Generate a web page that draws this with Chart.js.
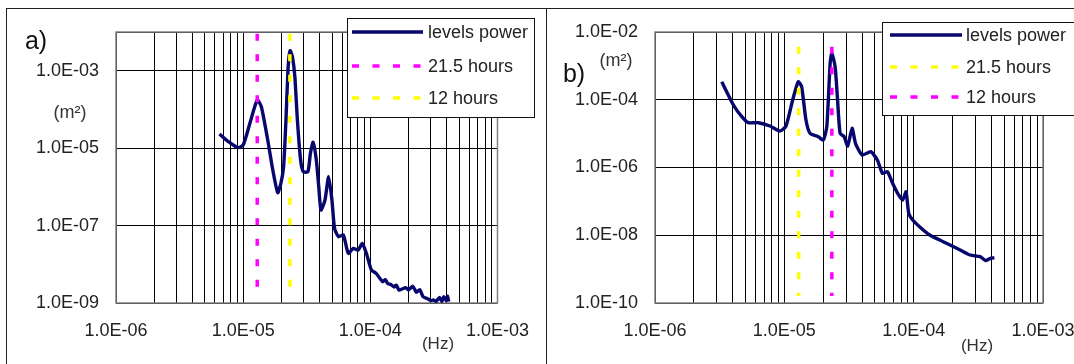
<!DOCTYPE html>
<html>
<head>
<meta charset="utf-8">
<script src="https://cdn.jsdelivr.net/npm/chart.js@4"></script>
<style>
  html, body { margin: 0; padding: 0; width: 1074px; height: 364px; overflow: hidden; background: #fff; }
  .frame { position: absolute; border: 1px solid #222; }
  canvas { position: absolute; top: 0; }
</style>
</head>
<body>
<div class="frame" style="left:6px; top:8px; width:539px; height:400px;"></div>
<div class="frame" style="left:546px; top:8px; width:600px; height:400px; border-left:none;"></div>
<canvas id="chartA" width="546" height="364" style="left:0"></canvas>
<canvas id="chartB" width="560" height="364" style="left:546px"></canvas>
<script>
// panel a) frequency (Hz) and power levels (m2)
var freqA = [6.52e-6, 7.66e-6, 9.14e-6, 1.0e-5, 1.13e-5, 1.29e-5, 1.39e-5, 1.56e-5, 1.71e-5, 1.87e-5,
             1.98e-5, 2.08e-5, 2.17e-5, 2.26e-5, 2.34e-5, 2.44e-5, 2.55e-5, 2.67e-5, 2.83e-5, 2.97e-5,
             3.23e-5, 3.38e-5, 3.55e-5, 3.76e-5, 3.93e-5, 4.09e-5, 4.40e-5, 4.70e-5, 4.99e-5, 5.23e-5,
             5.62e-5, 6.14e-5, 6.71e-5, 7.34e-5, 8.03e-5, 8.63e-5, 9.31e-5, 1.02e-4, 1.11e-4, 1.25e-4,
             1.31e-4, 1.37e-4, 1.45e-4, 1.54e-4, 1.60e-4, 1.68e-4, 1.78e-4, 1.90e-4, 2.0e-4, 2.16e-4,
             2.30e-4, 2.45e-4, 2.60e-4, 2.80e-4, 3.0e-4, 3.13e-4, 3.30e-4, 3.50e-4, 3.65e-4, 3.78e-4,
             3.95e-4, 4.05e-4, 4.14e-4];
var powerA = [2.32e-5, 1.47e-5, 1.03e-5, 1.2e-5, 4.4e-5, 1.75e-4, 1.17e-4, 1.62e-5, 2.72e-6, 7.06e-7,
              1.23e-6, 3.31e-6, 5.3e-5, 1.27e-3, 3.29e-3, 2.3e-3, 7.0e-4, 5.3e-5, 4.93e-6, 2.46e-6,
              2.46e-6, 7.35e-6, 1.42e-5, 4.93e-6, 1.01e-6, 2.52e-7, 4.57e-7, 1.83e-6, 4.57e-7, 8.49e-8,
              5.15e-8, 5.7e-8, 1.92e-8, 2.58e-8, 2.33e-8, 3.48e-8, 1.92e-8, 7.11e-9, 5.84e-9, 3.55e-9,
              4.0e-9, 3.2e-9, 3.0e-9, 2.6e-9, 2.9e-9, 2.16e-9, 2.3e-9, 2.5e-9, 2.2e-9, 2.7e-9,
              1.9e-9, 2.2e-9, 1.45e-9, 1.3e-9, 1.15e-9, 1.2e-9, 1.1e-9, 1.4e-9, 1.1e-9, 1.45e-9,
              1.15e-9, 1.5e-9, 1.08e-9];

// panel b)
var freqB = [3.28e-6, 4.04e-6, 4.69e-6, 5.27e-6, 6.30e-6, 7.74e-6, 9.27e-6, 1.03e-5, 1.16e-5, 1.28e-5,
             1.36e-5, 1.47e-5, 1.58e-5, 1.83e-5, 2.0e-5, 2.13e-5, 2.26e-5, 2.33e-5, 2.47e-5, 2.57e-5,
             2.70e-5, 2.90e-5, 3.09e-5, 3.34e-5, 3.55e-5, 4.0e-5, 4.65e-5, 5.24e-5, 5.74e-5, 6.27e-5,
             6.87e-5, 7.52e-5, 8.22e-5, 8.73e-5, 9.16e-5, 9.84e-5, 1.11e-4, 1.33e-4, 1.69e-4, 2.29e-4,
             2.74e-4, 3.27e-4, 3.6e-4, 3.92e-4, 4.21e-4];
var powerB = [3.41e-4, 7.0e-5, 3.16e-5, 2.1e-5, 2.1e-5, 1.68e-5, 1.19e-5, 1.68e-5, 9.84e-5, 3.41e-4,
              2.43e-4, 2.52e-5, 1.02e-5, 8.12e-6, 6.48e-6, 1.6e-5, 1.19e-3, 2.35e-3, 9.46e-4, 1.23e-4,
              1.02e-5, 8.12e-6, 4.31e-6, 1.44e-5, 5.18e-6, 2.34e-6, 2.92e-6, 1.66e-6, 6.75e-7, 7.52e-7,
              3.42e-7, 1.73e-7, 1.1e-7, 1.93e-7, 4.45e-8, 2.82e-8, 1.79e-8, 1.02e-8, 6.46e-9, 3.67e-9,
              2.61e-9, 2.33e-9, 1.8e-9, 2.09e-9, 2.17e-9];

// tidal periods (Hz) and the extent of their dashed markers
var freq21h = 1.29e-5;
var freq12h = 2.33e-5;
var markA = [9e-3, 2e-9];
var markB = [3.7e-3, 1.6e-10];

// axis ticks
var xDecades = [1e-6, 1e-5, 1e-4, 1e-3];
var xLabels = ['1.0E-06', '1.0E-05', '1.0E-04', '1.0E-03'];
var yTicksA = [1e-9, 1e-7, 1e-5, 1e-3, 1e-2];
var yLabelsA = ['1.0E-09', '1.0E-07', '1.0E-05', '1.0E-03', ''];
var yTicksB = [1e-10, 1e-8, 1e-6, 1e-4, 1e-2];
var yLabelsB = ['1.0E-10', '1.0E-08', '1.0E-06', '1.0E-04', '1.0E-02'];

var NAVY = '#07076e', MAGENTA = '#ff00ff', YELLOW = '#ffff00';
var FONT = '"Liberation Sans", Arial, sans-serif';

// grid lines at 1..9 of each decade
var xGrid = [];
xDecades.forEach(function (d, i) {
  xGrid.push(d);
  if (i < xDecades.length - 1) for (var m = 2; m <= 9; m++) xGrid.push(d * m);
});

function labelFor(values, labels, v) {
  for (var i = 0; i < values.length; i++) {
    if (Math.abs(Math.log10(values[i]) - Math.log10(v)) < 1e-6) return labels[i];
  }
  return '';
}

function pts(xs, ys) {
  return xs.map(function (x, i) { return { x: x, y: ys[i] }; });
}

var boxLegend = {
  id: 'boxLegend',
  afterDraw: function (chart, args, o) {
    var ctx = chart.ctx;
    ctx.save();
    ctx.fillStyle = '#fff';
    ctx.fillRect(o.x, o.y, o.w, o.h);
    ctx.strokeStyle = '#111';
    ctx.lineWidth = 1;
    ctx.strokeRect(o.x + 0.5, o.y + 0.5, o.w, o.h);
    chart.data.datasets.forEach(function (ds, i) {
      var y = o.rows[i];
      ctx.beginPath();
      ctx.strokeStyle = ds.borderColor;
      ctx.lineWidth = ds.borderWidth;
      ctx.setLineDash(ds.borderDash || []);
      ctx.moveTo(o.x1, y);
      ctx.lineTo(o.x2, y);
      ctx.stroke();
      ctx.setLineDash([]);
      ctx.fillStyle = '#222';
      ctx.font = '18px ' + FONT;
      ctx.textBaseline = 'middle';
      ctx.textAlign = 'left';
      ctx.fillText(ds.label, o.textX, y + 1);
    });
    ctx.restore();
  }
};

var panelText = {
  id: 'panelText',
  beforeDatasetsDraw: function (chart) {
    var a = chart.chartArea, ctx = chart.ctx;
    ctx.save();
    ctx.strokeStyle = '#808080';
    ctx.lineWidth = 1.5;
    ctx.strokeRect(a.left, a.top, a.right - a.left, a.bottom - a.top);
    ctx.restore();
  },
  afterDraw: function (chart, args, o) {
    var ctx = chart.ctx;
    ctx.save();
    ctx.fillStyle = '#111';
    ctx.textAlign = 'center';
    ctx.textBaseline = 'middle';
    ctx.font = '25px ' + FONT;
    ctx.fillText(o.letter, o.letterPos[0], o.letterPos[1]);
    ctx.fillStyle = '#333';
    ctx.font = '18px ' + FONT;
    ctx.fillText('(m²)', o.yUnitPos[0], o.yUnitPos[1]);
    ctx.font = '17px ' + FONT;
    ctx.fillText('(Hz)', o.xUnitPos[0], o.xUnitPos[1]);
    ctx.restore();
  }
};

function makePanel(id, p) {
  return new Chart(document.getElementById(id), {
    type: 'line',
    data: {
      datasets: [
        { label: 'levels power', data: pts(p.freq, p.power), borderColor: NAVY, borderWidth: 3.4,
          pointRadius: 0, tension: 0.2, fill: false, order: 3 },
        { label: '21.5 hours', data: pts([freq21h, freq21h], p.mark), borderColor: p.c21,
          borderWidth: 3.5, borderDash: [7, 13.5], pointRadius: 0, fill: false, order: 1 },
        { label: '12 hours', data: pts([freq12h, freq12h], p.mark), borderColor: p.c12,
          borderWidth: 3.5, borderDash: [7, 13.5], pointRadius: 0, fill: false, order: 2 }
      ]
    },
    options: {
      responsive: false,
      animation: false,
      layout: { padding: { left: 0, top: 32, right: p.padRight, bottom: 0 } },
      plugins: {
        legend: { display: false },
        tooltip: { enabled: false },
        boxLegend: p.legend,
        panelText: p.text
      },
      scales: {
        x: {
          type: 'logarithmic', min: 1e-6, max: 1e-3,
          afterBuildTicks: function (s) { s.ticks = xGrid.map(function (v) { return { value: v }; }); },
          afterFit: function (s) { s.height = 61; },
          ticks: {
            autoSkip: false, maxRotation: 0, padding: 17, color: '#222',
            font: { family: FONT, size: 18 },
            callback: function (v) { return labelFor(xDecades, xLabels, v); }
          },
          grid: { color: '#000', lineWidth: 1, drawTicks: false },
          border: { display: false }
        },
        y: {
          type: 'logarithmic', min: p.yTicks[0], max: 1e-2,
          afterBuildTicks: function (s) { s.ticks = p.yTicks.map(function (v) { return { value: v }; }); },
          afterFit: function (s) { s.width = p.yWidth; },
          ticks: {
            autoSkip: false, padding: 17, color: '#222',
            font: { family: FONT, size: 18 },
            callback: function (v) { return labelFor(p.yTicks, p.yLabels, v); }
          },
          grid: { color: '#000', lineWidth: 1, drawTicks: false },
          border: { display: false }
        }
      }
    },
    plugins: [panelText, boxLegend]
  });
}

makePanel('chartA', {
  freq: freqA, power: powerA, mark: markA, c21: MAGENTA, c12: YELLOW,
  yTicks: yTicksA, yLabels: yLabelsA, yWidth: 116, padRight: 43,
  legend: { x: 347, y: 18, w: 187, h: 99, rows: [32, 66, 98], x1: 352, x2: 423, textX: 428 },
  text: { letter: 'a)', letterPos: [36, 42], yUnitPos: [70, 113], xUnitPos: [438, 344] }
});

makePanel('chartB', {
  freq: freqB, power: powerB, mark: markB, c21: YELLOW, c12: MAGENTA,
  yTicks: yTicksB, yLabels: yLabelsB, yWidth: 109, padRight: 63,
  legend: { x: 336, y: 22, w: 250, h: 93, rows: [35, 67, 97], x1: 344, x2: 416, textX: 420 },
  text: { letter: 'b)', letterPos: [28, 75], yUnitPos: [70, 61], xUnitPos: [431, 346] }
});
</script>
</body>
</html>
